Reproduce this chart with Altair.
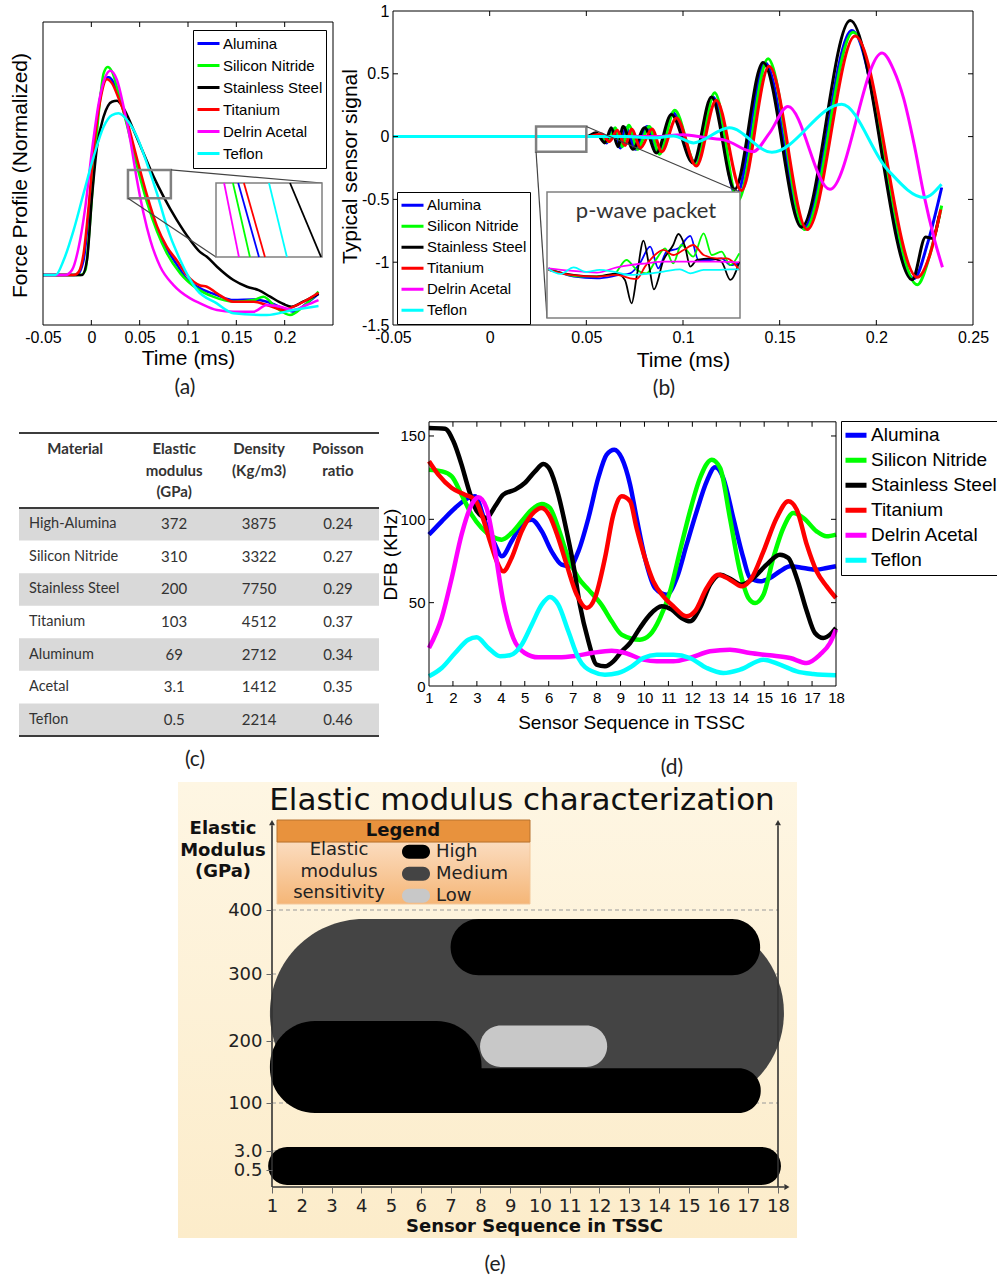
import altair as alt
import pandas as pd

W, H = 997, 1278

materials = ["Alumina", "Silicon Nitride", "Stainless Steel", "Titanium",
             "Delrin Acetal", "Teflon"]
palette = ["#0000ff", "#00ff00", "#000000", "#ff0000", "#ff00ff", "#00ffff"]

# ---------------------------------------------------------------- (a)
# normalized force profile: (time in ms, force)
force_alumina = [(-0.05, 0), (-0.015, 0), (-0.008, 0.072), (-0.0028, 0.297), (0.0024, 0.585),
                 (0.0093, 0.857), (0.0145, 0.945), (0.0179, 0.95), (0.0282, 0.865), (0.0369, 0.73),
                 (0.0472, 0.545), (0.0575, 0.37), (0.0679, 0.225), (0.0782, 0.125), (0.0885, 0.05),
                 (0.0988, -0.02), (0.1126, -0.064), (0.13, -0.096), (0.147, -0.12), (0.168, -0.117),
                 (0.1815, -0.128), (0.199, -0.16), (0.209, -0.176), (0.2228, -0.136), (0.235, -0.09)]
force_silicon = [(-0.05, 0), (-0.011, 0), (-0.006, 0.024), (-0.0028, 0.168), (0.0024, 0.489),
                 (0.0076, 0.777), (0.0127, 0.969), (0.0169, 1.0), (0.0214, 0.977), (0.0282, 0.873),
                 (0.0369, 0.72), (0.0472, 0.525), (0.0575, 0.35), (0.0679, 0.21), (0.0782, 0.104),
                 (0.092, 0.008), (0.109, -0.064), (0.126, -0.104), (0.147, -0.128), (0.168, -0.12),
                 (0.178, -0.104), (0.192, -0.16), (0.2056, -0.192), (0.219, -0.152), (0.235, -0.08)]
force_steel = [(-0.05, 0), (-0.0096, 0), (-0.0045, 0.072), (0.0007, 0.377), (0.0059, 0.617),
               (0.0127, 0.761), (0.0214, 0.833), (0.0265, 0.837), (0.0334, 0.801), (0.0437, 0.697),
               (0.054, 0.585), (0.0644, 0.473), (0.0747, 0.377), (0.0885, 0.264), (0.1023, 0.168),
               (0.1126, 0.11), (0.1195, 0.088), (0.13, 0.04), (0.147, -0.024), (0.161, -0.056),
               (0.173, -0.072), (0.185, -0.104), (0.1987, -0.139), (0.207, -0.152), (0.219, -0.128),
               (0.235, -0.09)]
force_titanium = [(-0.05, 0), (-0.018, 0), (-0.013, 0.016), (-0.008, 0.104), (-0.0028, 0.328),
                  (0.0024, 0.60), (0.0093, 0.841), (0.0162, 0.941), (0.0214, 0.921), (0.0282, 0.849),
                  (0.0369, 0.74), (0.0472, 0.56), (0.0575, 0.385), (0.0679, 0.235), (0.0782, 0.135),
                  (0.0885, 0.07), (0.0988, 0.0), (0.1126, -0.05), (0.1195, -0.056), (0.13, -0.088),
                  (0.147, -0.128), (0.168, -0.128), (0.1815, -0.144), (0.199, -0.168), (0.209, -0.152),
                  (0.2228, -0.12), (0.235, -0.085)]
force_delrin = [(-0.05, 0), (-0.027, 0), (-0.02, 0.024), (-0.013, 0.136), (-0.0062, 0.328),
                (0.0007, 0.60), (0.0076, 0.825), (0.0145, 0.953), (0.0196, 0.982), (0.0265, 0.9375),
                (0.0334, 0.809), (0.0403, 0.649), (0.0472, 0.457), (0.054, 0.297), (0.061, 0.168),
                (0.0713, 0.04), (0.085, -0.048), (0.1023, -0.112), (0.1126, -0.136), (0.13, -0.168),
                (0.147, -0.176), (0.168, -0.176), (0.1815, -0.144), (0.195, -0.152), (0.209, -0.168),
                (0.2228, -0.144), (0.235, -0.12)]
force_teflon = [(-0.05, 0), (-0.037, 0), (-0.0286, 0.072), (-0.0183, 0.216), (-0.008, 0.393),
                (0.0024, 0.569), (0.0127, 0.713), (0.0214, 0.769), (0.0282, 0.777), (0.0369, 0.745),
                (0.0472, 0.665), (0.0575, 0.537), (0.0679, 0.393), (0.0782, 0.232), (0.0919, 0.072),
                (0.109, -0.07), (0.1298, -0.136), (0.147, -0.183), (0.1815, -0.192), (0.209, -0.168),
                (0.235, -0.149)]

# magnified falling edges: window (t0, t1, f0, f1) and line ends inside it
window_a = (0.0379, 0.0823, 0.369, 0.505)
edge_alumina = [(0.0472, 0.505), (0.0559, 0.369)]
edge_silicon = [(0.0450, 0.505), (0.0521, 0.369)]
edge_steel = [(0.0689, 0.505), (0.0819, 0.369)]
edge_titanium = [(0.0496, 0.505), (0.0584, 0.369)]
edge_delrin = [(0.0413, 0.505), (0.0475, 0.369)]
edge_teflon = [(0.0601, 0.505), (0.0676, 0.369)]

# ---------------------------------------------------------------- (b)
# typical sensor signal: (time in ms, signal)
signal_alumina = [(-0.05, 0), (0.0, 0), (0.05, 0), (0.056, 0.02), (0.0605, -0.05), (0.064, 0.06),
                  (0.0675, -0.09), (0.0705, 0.07), (0.0755, -0.1), (0.0815, 0.08), (0.0872, -0.12),
                  (0.0948, 0.19), (0.106, -0.2), (0.1155, 0.315), (0.1275, -0.47), (0.1424, 0.59),
                  (0.1623, -0.73), (0.1873, 0.845), (0.2195, -1.13), (0.2265, -0.85), (0.2338, -0.405)]
signal_silicon = [(-0.05, 0), (0.0, 0), (0.05, 0), (0.057, 0.02), (0.061, -0.04), (0.065, 0.07),
                  (0.0685, -0.08), (0.072, 0.09), (0.0765, -0.1), (0.0825, 0.08), (0.0878, -0.14),
                  (0.0957, 0.21), (0.1066, -0.22), (0.1164, 0.35), (0.1284, -0.51), (0.144, 0.62),
                  (0.163, -0.74), (0.188, 0.83), (0.2212, -1.18), (0.2275, -0.95), (0.2338, -0.55)]
signal_steel = [(-0.05, 0), (0.0, 0), (0.05, 0), (0.055, 0.03), (0.0595, -0.05), (0.0629, 0.07),
                (0.0664, -0.08), (0.069, 0.08), (0.0741, -0.1), (0.0802, 0.07), (0.0862, -0.13),
                (0.094, 0.175), (0.1052, -0.21), (0.1147, 0.315), (0.1267, -0.42), (0.1414, 0.59),
                (0.1613, -0.72), (0.1865, 0.924), (0.2186, -1.14), (0.2255, -0.80), (0.229, -0.81),
                (0.2325, -0.63)]
signal_titanium = [(-0.05, 0), (0.0, 0), (0.05, 0), (0.058, 0.02), (0.062, -0.04), (0.066, 0.05),
                   (0.07, -0.07), (0.0735, 0.06), (0.078, -0.09), (0.084, 0.06), (0.089, -0.12),
                   (0.0966, 0.148), (0.1069, -0.235), (0.1172, 0.29), (0.1302, -0.43), (0.1445, 0.56),
                   (0.1642, -0.74), (0.189, 0.80), (0.2212, -1.12), (0.2275, -0.95), (0.2333, -0.58)]
signal_delrin = [(-0.05, 0), (0.0, 0), (0.05, 0), (0.085, 0.0), (0.1, 0.015), (0.112, -0.01),
                 (0.122, -0.03), (0.1362, -0.12), (0.1448, 0.03), (0.1543, 0.24), (0.176, -0.42),
                 (0.203, 0.666), (0.209, 0.53), (0.2142, 0.30), (0.2194, -0.05), (0.2247, -0.47),
                 (0.2299, -0.81), (0.2342, -1.04)]
signal_teflon = [(-0.05, 0), (0.0, 0), (0.05, 0), (0.07, 0.0), (0.085, -0.01), (0.095, 0.005),
                 (0.1055, -0.05), (0.124, 0.07), (0.146, -0.125), (0.1821, 0.258), (0.2056, -0.26),
                 (0.2247, -0.484), (0.2337, -0.38)]

# magnified p-wave packet: window (t0, t1, s0, s1) and traces inside it
window_b = (0.024, 0.050, -0.12, 0.08)
packet_alumina = [(0.0242, -0.0411), (0.0276, -0.0543), (0.0307, -0.0570), (0.0338, -0.0517),
                  (0.0352, -0.0491), (0.0365, -0.0332), (0.0379, -0.0068), (0.0390, -0.0411),
                  (0.0401, -0.0147), (0.0417, -0.0094), (0.0433, 0.0102), (0.0444, -0.0279),
                  (0.0460, -0.0279), (0.0475, -0.0253), (0.0487, -0.0359), (0.0499, -0.0332)]
packet_silicon = [(0.0242, -0.0411), (0.0285, -0.0543), (0.0329, -0.0517), (0.0347, -0.0279),
                  (0.0361, -0.0437), (0.0374, -0.0491), (0.0388, -0.0253), (0.0399, -0.0094),
                  (0.0410, -0.0332), (0.0421, -0.0041), (0.0437, -0.0226), (0.0451, 0.0144),
                  (0.0462, -0.0200), (0.0475, -0.0147), (0.0487, -0.0359), (0.0499, -0.0173)]
packet_steel = [(0.0242, -0.0437), (0.0276, -0.0517), (0.0307, -0.0543), (0.0334, -0.0491),
                (0.0345, -0.0596), (0.0354, -0.0967), (0.0361, -0.0530), (0.0370, 0.0028),
                (0.0377, -0.0332), (0.0384, -0.0744), (0.0397, -0.0279), (0.0410, -0.0041),
                (0.0417, 0.0133), (0.0426, -0.0068), (0.0433, -0.0385), (0.0442, -0.0279),
                (0.0460, -0.0253), (0.0475, -0.0306), (0.0487, -0.0596), (0.0499, -0.0306)]
packet_titanium = [(0.0242, -0.0437), (0.0271, -0.0517), (0.0307, -0.0543), (0.0334, -0.0517),
                   (0.0352, -0.0570), (0.0361, -0.0580), (0.0372, -0.0385), (0.0383, -0.0226),
                   (0.0397, -0.0120), (0.0410, -0.0200), (0.0424, -0.0120), (0.0437, -0.0041),
                   (0.0451, -0.0200), (0.0469, -0.0253), (0.0482, -0.0253), (0.0499, -0.0437)]
packet_delrin = [(0.0242, -0.0411), (0.0271, -0.0448), (0.0307, -0.0480), (0.0334, -0.0396),
                 (0.0352, -0.0359), (0.0374, -0.0332), (0.0397, -0.0306), (0.0419, -0.0306),
                 (0.0442, -0.0306), (0.0469, -0.0306), (0.0499, -0.0316)]
packet_teflon = [(0.0242, -0.0427), (0.0258, -0.0501), (0.0276, -0.0396), (0.0293, -0.0470),
                 (0.0311, -0.0437), (0.0329, -0.0464), (0.0352, -0.0517), (0.0374, -0.0501),
                 (0.0397, -0.0464), (0.0419, -0.0427), (0.0433, -0.0491), (0.0451, -0.0437),
                 (0.0469, -0.0437), (0.0487, -0.0427), (0.0499, -0.0427)]

# ---------------------------------------------------------------- (c)
table_material = ["High-Alumina", "Silicon Nitride", "Stainless Steel", "Titanium",
                  "Aluminum", "Acetal", "Teflon"]
table_modulus = ["372", "310", "200", "103", "69", "3.1", "0.5"]
table_density = ["3875", "3322", "7750", "4512", "2712", "1412", "2214"]
table_poisson = ["0.24", "0.27", "0.29", "0.37", "0.34", "0.35", "0.46"]
table_header = [["Material"], ["Elastic", "modulus", "(GPa)"], ["Density", "(Kg/m3)"],
                ["Poisson", "ratio"]]

# ---------------------------------------------------------------- (d)
# DFB along the sensor chain: (sensor position, kHz)
dfb_alumina = [(1, 90.8), (1.53, 98.8), (2.09, 106.8), (2.64, 112.8), (2.92, 113.8), (3.34, 98.8),
               (3.76, 84.8), (4.04, 77.8), (4.45, 86.8), (4.87, 96.8), (5.29, 99.8), (5.71, 92.8),
               (6.12, 80.8), (6.54, 72.8), (6.89, 71.8), (7.24, 80.8), (7.66, 100.8), (8.07, 124.8),
               (8.42, 138.8), (8.74, 141.8), (9.05, 136.8), (9.4, 120.8), (9.67, 100.8), (10.02, 76.8),
               (10.44, 58.8), (10.93, 54.8), (11.35, 64.8), (11.76, 84.8), (12.18, 104.8), (12.6, 122.8),
               (12.95, 131.2), (13.29, 124.8), (13.71, 100.8), (14.13, 76.8), (14.41, 64.8), (14.83, 62.8),
               (15.24, 64.8), (15.66, 68.8), (16.08, 71.8), (16.64, 70.8), (17.19, 69.8), (17.61, 70.8),
               (18, 71.8)]
dfb_silicon = [(1, 129.8), (1.53, 128.8), (1.95, 125.8), (2.36, 114.8), (2.78, 102.8), (3.2, 94.8),
               (3.62, 89.8), (4.04, 87.8), (4.45, 91.8), (4.87, 98.8), (5.29, 105.8), (5.71, 109.2),
               (6.05, 106.8), (6.4, 94.8), (6.82, 76.8), (7.24, 64.8), (7.66, 57.8), (8.2, 48.8),
               (8.63, 38.8), (9.05, 30.8), (9.81, 27.8), (10.23, 30.8), (10.65, 40.8), (11.07, 56.8),
               (11.48, 80.8), (11.9, 104.8), (12.32, 124.8), (12.81, 135.8), (13.16, 130.8), (13.57, 100.8),
               (13.99, 68.8), (14.34, 52.8), (14.62, 49.8), (14.97, 54.8), (15.38, 76.8), (15.8, 94.8),
               (16.22, 103.8), (16.64, 100.8), (17.19, 92.8), (17.61, 89.8), (18, 90.8)]
dfb_steel = [(1, 154.8), (1.67, 154.4), (2.02, 146.8), (2.36, 132.8), (2.64, 118.8), (3.0, 104.8),
             (3.4, 100.8), (3.76, 107.8), (4.1, 114.8), (4.6, 117.8), (5.0, 121.8), (5.43, 128.8),
             (5.78, 133.2), (6.05, 129.8), (6.4, 114.8), (6.75, 92.8), (7.03, 72.8), (7.3, 48.8),
             (7.66, 26.8), (8.0, 12.8), (8.35, 11.8), (8.7, 14.8), (9.05, 20.8), (9.4, 25.8),
             (9.81, 34.8), (10.23, 42.8), (10.72, 47.8), (11.14, 45.8), (11.55, 40.8), (11.9, 38.8),
             (12.32, 46.8), (12.74, 60.8), (13.16, 66.8), (13.64, 63.8), (14.06, 60.8), (14.55, 64.8),
             (15.1, 72.8), (15.66, 78.8), (16.01, 76.8), (16.36, 64.8), (16.78, 44.8), (17.12, 31.8),
             (17.47, 28.8), (17.82, 31.8), (18, 34.8)]
dfb_titanium = [(1, 134.8), (1.39, 126.8), (1.95, 118.8), (2.5, 114.8), (2.92, 111.8), (3.2, 102.8),
                (3.55, 86.8), (3.83, 74.8), (4.1, 68.8), (4.45, 76.8), (4.87, 92.8), (5.29, 102.8),
                (5.71, 106.8), (6.05, 101.8), (6.4, 88.8), (6.75, 72.8), (7.17, 54.8), (7.59, 46.8),
                (7.93, 52.8), (8.35, 76.8), (8.7, 102.8), (9.05, 113.8), (9.4, 110.8), (9.67, 94.8),
                (10.02, 76.8), (10.37, 62.8), (10.79, 53.8), (11.21, 47.8), (11.76, 41.8), (12.11, 44.8),
                (12.6, 58.8), (13.09, 66.8), (13.57, 63.8), (14.06, 59.8), (14.48, 64.8), (14.97, 80.8),
                (15.52, 100.8), (16.01, 110.8), (16.36, 105.8), (16.78, 84.8), (17.19, 68.8),
                (17.61, 59.8), (18, 52.8)]
dfb_delrin = [(1, 22.8), (1.53, 40.8), (1.95, 64.8), (2.36, 90.8), (2.78, 108.8), (3.06, 113.2),
              (3.4, 106.8), (3.76, 80.8), (4.1, 50.8), (4.52, 28.8), (5.0, 19.8), (5.57, 17.2),
              (6.4, 17.2), (7.1, 18), (7.8, 19.8), (8.63, 21.2), (9.2, 19.8), (9.95, 15.8),
              (10.51, 14.8), (11.21, 14.8), (11.9, 16.8), (12.74, 20.8), (13.57, 21.8), (14.41, 19.8),
              (15.24, 18.4), (16.08, 16.8), (16.78, 13.8), (17.33, 18.8), (17.75, 25.8), (18, 33.8)]
dfb_teflon = [(1, 5.8), (1.53, 10.8), (2.09, 19.8), (2.64, 27.8), (2.99, 29.2), (3.48, 22.8),
              (3.97, 17.8), (4.38, 18.4), (4.87, 24.8), (5.29, 36.8), (5.71, 48.8), (6.05, 53.4),
              (6.4, 48.8), (6.82, 32.8), (7.24, 16.8), (7.8, 8.8), (8.35, 6.8), (8.9, 7.8),
              (9.47, 11.8), (9.95, 16.8), (10.51, 18.8), (11.21, 18.8), (11.9, 16.8), (12.6, 10.8),
              (13.29, 7.8), (13.99, 9.8), (14.97, 15.8), (15.66, 12.8), (16.36, 8.8), (17.05, 7.2),
              (18, 6.4)]

# ---------------------------------------------------------------- (e)
# sensitivity regions: level, sensor span, elastic modulus span (GPa)
region_level = ["Medium", "High", "High", "High", "Low", "High"]
region_s0 = [0.93, 7.0, 0.93, 2.0, 7.99, 0.87]
region_s1 = [18.2, 17.4, 8.04, 17.42, 12.26, 18.1]
region_g0 = [92, 298, 80, 80, 158, 0.06]
region_g1 = [386, 386, 230, 156, 223, 11]
sens_levels = ["High", "Medium", "Low"]
sens_colors = ["#000000", "#444444", "#c8c8c8"]
e_yticks = [0.5, 3, 100, 200, 300, 400]
e_xticks = list(range(1, 19))

# tick values of the line plots
a_xticks = [-0.05, 0, 0.05, 0.1, 0.15, 0.2]
b_xticks = [-0.05, 0, 0.05, 0.1, 0.15, 0.2, 0.25]
b_yticks = [-1.5, -1, -0.5, 0, 0.5, 1]
d_xticks = list(range(1, 19))
d_yticks = [0, 50, 100, 150]

# ================================================================ helpers
SANS = "Liberation Sans"
CAL = "Lato"
VER = "DejaVu Sans"
LABEL = "'' + datum.value"


def sc(domain, rng):
    return alt.Scale(domain=list(domain), range=list(rng), nice=False, zero=False)


def to_px(v, dom, rng):
    return rng[0] + (v - dom[0]) / (dom[1] - dom[0]) * (rng[1] - rng[0])


def series_frame(series):
    rows = []
    for name, pts in zip(materials, series):
        for k, (x, y) in enumerate(pts):
            rows.append({"material": name, "x": x, "y": y, "k": k})
    return pd.DataFrame(rows)


def bottom_axis(y_px, values, size, title, tx, ty, tsize, **kw):
    opts = dict(orient="bottom", offset=y_px - H, values=values, labelExpr=LABEL,
                labelFont=SANS, labelFontSize=size, labelColor="black", labelPadding=4,
                labelFlush=False, labelOverlap=False, ticks=False, tickSize=0,
                domain=False, grid=False, title=title, titleX=tx, titleY=ty,
                titleFont=SANS, titleFontSize=tsize, titleFontWeight="normal",
                titleColor="black", titleBaseline="middle", titleAlign="center",
                titleAngle=0, zindex=1)
    opts.update(kw)
    return alt.Axis(**opts)


def left_axis(x_px, values, size, title, tx, ty, tsize, **kw):
    opts = dict(orient="left", offset=-x_px, values=values, labelExpr=LABEL,
                labelFont=SANS, labelFontSize=size, labelColor="black", labelPadding=4,
                labelFlush=False, labelOverlap=False, ticks=False, tickSize=0,
                domain=False, grid=False, title=title, titleX=tx, titleY=ty,
                titleFont=SANS, titleFontSize=tsize, titleFontWeight="normal",
                titleColor="black", titleBaseline="middle", titleAlign="center",
                titleAngle=270, zindex=1)
    opts.update(kw)
    return alt.Axis(**opts)


def line_legend(x, y, size, row_h, sym_len, sym_w, pad):
    return alt.Legend(orient="none", legendX=x, legendY=y, title=None, direction="vertical",
                      labelFont=SANS, labelFontSize=size, labelColor="black",
                      symbolType="stroke", symbolSize=sym_len ** 2, symbolStrokeWidth=sym_w,
                      clipHeight=row_h, rowPadding=0, padding=pad, labelOffset=2,
                      strokeColor="black", fillColor="white", cornerRadius=0)


def pos(field, scale, hide):
    """Positional channel; a layer that merely shares a panel's axes leaves the axis unset."""
    return dict(field=field, type="quantitative", scale=scale, **({"axis": None} if hide else {}))


def frame_box(xs, ys, xdom, ydom, stroke="black", width=1, fill=None, hide=False):
    d = pd.DataFrame([{"x0": xdom[0], "x1": xdom[1], "y0": ydom[0], "y1": ydom[1]}])
    mark = alt.Chart(d).mark_rect(stroke=stroke, strokeWidth=width, fill=fill) if fill else \
        alt.Chart(d).mark_rect(stroke=stroke, strokeWidth=width, filled=False)
    return mark.encode(x=alt.X(**pos("x0", xs, hide)), x2="x1",
                       y=alt.Y(**pos("y0", ys, hide)), y2="y1")


def inward_ticks(xs, ys, xdom, ydom, xt, yt, length=5):
    out = []
    if xt:
        d = pd.DataFrame({"v": xt, "lo": ydom[0], "hi": ydom[1]})
        for col, off in (("lo", -length / 2), ("hi", length / 2)):
            out.append(alt.Chart(d).mark_tick(orient="vertical", size=length, thickness=1,
                                              color="black", yOffset=off, opacity=1).encode(
                x=alt.X(**pos("v", xs, False)), y=alt.Y(**pos(col, ys, False))))
    if yt:
        d = pd.DataFrame({"v": yt, "lo": xdom[0], "hi": xdom[1]})
        for col, off in (("lo", length / 2), ("hi", -length / 2)):
            out.append(alt.Chart(d).mark_tick(orient="horizontal", size=length, thickness=1,
                                              color="black", xOffset=off, opacity=1).encode(
                y=alt.Y(**pos("v", ys, False)), x=alt.X(**pos(col, xs, False))))
    return out


def colour(legend):
    return alt.Color("material:N", scale=alt.Scale(domain=materials, range=palette), legend=legend)


CX = sc([0, W], [0, W])
CY = sc([0, H], [0, H])


def canvas_text(rows, font, size, weight="normal", color="#222", align="center", baseline="middle"):
    d = pd.DataFrame(rows, columns=["text", "x", "y"])
    return alt.Chart(d).mark_text(font=font, fontSize=size, fontWeight=weight, color=color,
                                  align=align, baseline=baseline).encode(
        x=alt.X("x:Q", scale=CX, axis=None), y=alt.Y("y:Q", scale=CY, axis=None), text="text:N")


def canvas_rect(x0, x1, y0, y1, **style):
    d = pd.DataFrame([{"x0": x0, "x1": x1, "y0": y0, "y1": y1}])
    return alt.Chart(d).mark_rect(**style).encode(
        x=alt.X("x0:Q", scale=CX, axis=None), x2="x1",
        y=alt.Y("y0:Q", scale=CY, axis=None), y2="y1")


# ================================================================ (a)
AXD, AXR = [-0.05, 0.25], [43, 333]
AYD, AYR = [-0.24, 1.216], [325, 22]
ax, ay = sc(AXD, AXR), sc(AYD, AYR)
df_a = series_frame([force_alumina, force_silicon, force_steel, force_titanium,
                     force_delrin, force_teflon])
a_lines = alt.Chart(df_a).mark_line(strokeWidth=2.5, interpolate="monotone").encode(
    x=alt.X("x:Q", scale=ax, axis=bottom_axis(325, a_xticks, 16, "Time (ms)", 188, 33, 21)),
    y=alt.Y("y:Q", scale=ay, axis=left_axis(43, [0], 16, "Force Profile (Normalized)", -23, 175, 21,
                                            labels=False)),
    color=colour(line_legend(193, 30, 15, 21.2, 22, 3, 3)),
    detail="material:N")
win_a = pd.DataFrame([{"x0": window_a[0], "x1": window_a[1], "y0": window_a[2], "y1": window_a[3]}])
a_window = alt.Chart(win_a).mark_rect(filled=False, stroke="#808080", strokeWidth=2.5).encode(
    x=alt.X(**pos("x0", ax, False)), x2="x1", y=alt.Y(**pos("y0", ay, False)), y2="y1")
panel_a = alt.layer(a_lines, frame_box(ax, ay, AXD, AYD), a_window,
                    *inward_ticks(ax, ay, AXD, AYD, a_xticks[1:], []))

IAXR, IAYR = [216, 322], [257, 183]
iax, iay = sc(window_a[:2], IAXR), sc(window_a[2:], IAYR)
df_ia = series_frame([edge_alumina, edge_silicon, edge_steel, edge_titanium, edge_delrin, edge_teflon])
inset_a = alt.layer(
    frame_box(iax, iay, window_a[:2], window_a[2:], stroke="#808080", width=1.5, fill="white",
              hide=True),
    alt.Chart(df_ia).mark_line(strokeWidth=1.8).encode(
        x=alt.X("x:Q", scale=iax, axis=None), y=alt.Y("y:Q", scale=iay, axis=None),
        color=colour(None), detail="material:N"))

# ================================================================ (b)
BXD, BXR = [-0.05, 0.25], [393, 973]
BYD, BYR = [-1.5, 1.0], [325, 11]
bx, by = sc(BXD, BXR), sc(BYD, BYR)
df_b = series_frame([signal_alumina, signal_silicon, signal_steel, signal_titanium,
                     signal_delrin, signal_teflon])
b_lines = alt.Chart(df_b).mark_line(strokeWidth=3, interpolate="monotone").encode(
    x=alt.X("x:Q", scale=bx, axis=bottom_axis(325, b_xticks, 16, "Time (ms)", 683, 35, 21)),
    y=alt.Y("y:Q", scale=by, axis=left_axis(393, b_yticks, 16, "Typical sensor signal", -43, 166, 21)),
    color=colour(line_legend(397, 192, 15, 20.7, 22, 3, 3)),
    detail="material:N")
win_b = pd.DataFrame([{"x0": window_b[0], "x1": window_b[1], "y0": window_b[2], "y1": window_b[3]}])
b_window = alt.Chart(win_b).mark_rect(filled=False, stroke="#808080", strokeWidth=2.5).encode(
    x=alt.X(**pos("x0", bx, False)), x2="x1", y=alt.Y(**pos("y0", by, False)), y2="y1")
panel_b = alt.layer(b_lines, frame_box(bx, by, BXD, BYD), b_window,
                    *inward_ticks(bx, by, BXD, BYD, b_xticks[1:-1], b_yticks[1:-1]))

IBXR, IBYR = [547, 740], [318, 192]
ibx, iby = sc(window_b[:2], IBXR), sc(window_b[2:], IBYR)
df_ib = series_frame([packet_alumina, packet_silicon, packet_steel, packet_titanium,
                      packet_delrin, packet_teflon])
inset_b = alt.layer(
    frame_box(ibx, iby, window_b[:2], window_b[2:], stroke="#808080", width=1.5, fill="white",
              hide=True),
    alt.Chart(df_ib).mark_line(strokeWidth=1.8, interpolate="monotone").encode(
        x=alt.X("x:Q", scale=ibx, axis=None), y=alt.Y("y:Q", scale=iby, axis=None),
        color=colour(None), detail="material:N"))

# connectors from the magnified windows to their insets
conn = []
for win, xd, xr, yd, yr, ixr, iyr, pairs in (
        (window_a, AXD, AXR, AYD, AYR, IAXR, IAYR, [((1, 3), (1, 1)), ((0, 2), (0, 0))]),
        (window_b, BXD, BXR, BYD, BYR, IBXR, IBYR, [((1, 3), (1, 1)), ((0, 2), (0, 0))])):
    for (wx, wy), (bxi, byi) in pairs:
        conn.append({"x": to_px(win[wx], xd, xr), "y": to_px(win[wy], yd, yr),
                     "x2": ixr[bxi], "y2": iyr[byi]})
connectors = alt.Chart(pd.DataFrame(conn)).mark_rule(color="#444", strokeWidth=1.2).encode(
    x=alt.X("x:Q", scale=CX, axis=None), y=alt.Y("y:Q", scale=CY, axis=None), x2="x2", y2="y2")

# ================================================================ (c) table
tx, ty = sc([0, 1], [19, 379]), sc([0, 7], [508, 736])
col_center = [0.156, 0.431, 0.667, 0.886]
bands = pd.DataFrame([{"x0": 0, "x1": 1, "y0": i, "y1": i + 1} for i in range(0, 7, 2)])
t_bands = alt.Chart(bands).mark_rect(fill="#d9d9d9").encode(
    x=alt.X("x0:Q", scale=tx, axis=None), x2="x1", y=alt.Y("y0:Q", scale=ty, axis=None), y2="y1")
rules = pd.DataFrame({"y": [-2.3, 0, 7], "x0": 0, "x1": 1})
t_rules = alt.Chart(rules).mark_rule(color="#3c3c3c", strokeWidth=2).encode(
    x=alt.X("x0:Q", scale=tx, axis=None), x2="x1", y=alt.Y("y:Q", scale=ty, axis=None))
head_rows = []
for c, lines in enumerate(table_header):
    for j, txt in enumerate(lines):
        head_rows.append({"text": txt, "x": col_center[c], "y": -1.81 + 0.66 * j})
t_head = alt.Chart(pd.DataFrame(head_rows)).mark_text(
    font=CAL, fontSize=15, fontWeight="bold", color="#333", baseline="middle").encode(
    x=alt.X("x:Q", scale=tx, axis=None), y=alt.Y("y:Q", scale=ty, axis=None), text="text:N")
body_left = pd.DataFrame({"text": table_material, "x": 0.028, "y": [i + 0.5 for i in range(7)]})
t_left = alt.Chart(body_left).mark_text(
    font=CAL, fontSize=14.5, color="#333", align="left", baseline="middle").encode(
    x=alt.X("x:Q", scale=tx, axis=None), y=alt.Y("y:Q", scale=ty, axis=None), text="text:N")
body_rows = []
for c, col in enumerate([table_modulus, table_density, table_poisson], start=1):
    for i, txt in enumerate(col):
        body_rows.append({"text": txt, "x": col_center[c], "y": i + 0.5})
t_body = alt.Chart(pd.DataFrame(body_rows)).mark_text(
    font=CAL, fontSize=15, color="#333", align="center", baseline="middle").encode(
    x=alt.X("x:Q", scale=tx, axis=None), y=alt.Y("y:Q", scale=ty, axis=None), text="text:N")
panel_c = alt.layer(t_bands, t_rules, t_head, t_left, t_body)

# ================================================================ (d)
DXD, DXR = [1, 18], [429, 836]
DYD, DYR = [0, 158.5], [686, 421.8]
dx, dy = sc(DXD, DXR), sc(DYD, DYR)
df_d = series_frame([dfb_alumina, dfb_silicon, dfb_steel, dfb_titanium, dfb_delrin, dfb_teflon])
d_lines = alt.Chart(df_d).mark_line(strokeWidth=4.5, interpolate="monotone").encode(
    x=alt.X("x:Q", scale=dx, axis=bottom_axis(686, d_xticks, 15, "Sensor Sequence in TSSC", 631, 36, 19)),
    y=alt.Y("y:Q", scale=dy, axis=left_axis(429, d_yticks, 15, "DFB (KHz)", -39, 554, 19)),
    color=colour(line_legend(841, 421, 19, 24.7, 21, 5, 2)),
    detail="material:N")
panel_d = alt.layer(d_lines, frame_box(dx, dy, DXD, DYD),
                    *inward_ticks(dx, dy, DXD, DYD, d_xticks[1:-1], d_yticks[1:]))

# ================================================================ (e)
ex = sc([1, 18], [272, 778])
ey = alt.Scale(domain=[0, 0.5, 3, 100, 200, 300, 400, 540],
               range=[1187, 1170, 1151, 1103, 1041, 974, 910, 820], nice=False, zero=False)
df_e = pd.DataFrame({"id": range(len(region_level)), "level": region_level,
                     "s0": region_s0, "s1": region_s1, "g0": region_g0, "g1": region_g1})
region_radius = [94, 28, 45, 22, 21, 19]

e_axis_x = alt.Axis(orient="bottom", offset=1187 - H, values=e_xticks, labelExpr=LABEL,
                    labelFont=VER, labelFontSize=18,
                    labelColor="#222", labelPadding=4, labelFlush=False, labelOverlap=False,
                    ticks=True, tickSize=6, tickColor="#666", domain=False, grid=False,
                    title="Sensor Sequence in TSSC", titleX=534, titleY=39.5, titleFont=VER,
                    titleFontSize=18, titleFontWeight="bold", titleColor="#111",
                    titleBaseline="middle", titleAlign="center", titleAngle=0, zindex=1)
e_axis_y = alt.Axis(orient="left", offset=-272, values=e_yticks,
                    labelExpr="datum.value == 3 ? '3.0' : '' + datum.value",
                    labelFont=VER, labelFontSize=18, labelColor="#222", labelPadding=4,
                    labelFlush=False, labelOverlap=False, ticks=True, tickSize=6, tickColor="#666",
                    domain=False, grid=False, title=None, zindex=1)

grid = pd.DataFrame({"g": e_yticks, "s0": 1, "s1": 18})
e_grid = alt.Chart(grid).mark_rule(color="#9a9a9a", strokeWidth=1, strokeDash=[4, 3]).encode(
    x=alt.X("s0:Q", scale=ex, axis=e_axis_x), x2="s1", y=alt.Y("g:Q", scale=ey, axis=e_axis_y))

sym_path = "M-0.5,-0.5H0.5A0.5,0.5,0,0,1,0.5,0.5H-0.5A0.5,0.5,0,0,1,-0.5,-0.5Z"
e_legend = alt.Legend(orient="none", legendX=402, legendY=841, title=None, direction="vertical",
                      labelFont=VER, labelFontSize=18, labelColor="#222", symbolType=sym_path,
                      symbolSize=784, symbolStrokeWidth=0, clipHeight=21.5, rowPadding=0,
                      padding=0, labelOffset=6)
region_layers = []
for i, r in enumerate(region_radius):
    enc = dict(
        x=alt.X(**pos("s0", ex, False)), x2="s1",
        y=alt.Y(**pos("g0", ey, False)), y2="g1",
        color=alt.Color("level:N", scale=alt.Scale(domain=sens_levels, range=sens_colors),
                        legend=e_legend if i == 0 else None))
    region_layers.append(alt.Chart(df_e).transform_filter(f"datum.id == {i}")
                         .mark_rect(cornerRadius=r, opacity=1).encode(**enc))

axis_lines = pd.DataFrame({"s": [1, 18, 1], "s2": [1, 18, 18.22], "g": [0, 0, 0], "g2": [532, 532, 0]})
e_lines = alt.Chart(axis_lines).mark_rule(color="#333", strokeWidth=1.6).encode(
    x=alt.X(**pos("s", ex, False)), x2="s2", y=alt.Y(**pos("g", ey, False)), y2="g2")
arrow_up = pd.DataFrame({"s": [1, 18], "g": [536, 536]})
e_arrow_up = alt.Chart(arrow_up).mark_point(shape="triangle-up", filled=True, size=35,
                                            color="#333", opacity=1).encode(
    x=alt.X(**pos("s", ex, False)), y=alt.Y(**pos("g", ey, False)))
arrow_right = pd.DataFrame({"s": [18.3], "g": [0]})
e_arrow_right = alt.Chart(arrow_right).mark_point(shape="triangle-right", filled=True, size=35,
                                                  color="#333", opacity=1).encode(
    x=alt.X(**pos("s", ex, False)), y=alt.Y(**pos("g", ey, False)))
panel_e = alt.layer(e_grid, *region_layers, e_lines, e_arrow_up, e_arrow_right)

# ================================================================ figure furniture
bg_grad = {"gradient": "linear", "x1": 0, "x2": 0, "y1": 0, "y2": 1,
           "stops": [{"offset": 0, "color": "#fef6e3"}, {"offset": 1, "color": "#fcecca"}]}
legend_grad = {"gradient": "linear", "x1": 0, "x2": 0, "y1": 0, "y2": 1,
               "stops": [{"offset": 0, "color": "#fbdcbf"}, {"offset": 1, "color": "#f5b677"}]}
back = canvas_rect(178, 797, 782, 1238, fill=bg_grad)

front = alt.layer(
    canvas_rect(277, 530, 842, 904, fill=legend_grad, stroke="#f3c79a", strokeWidth=1),
    canvas_rect(277, 530, 820, 842, fill="#e8923d", stroke="#b8732f", strokeWidth=1),
    canvas_text([("(a)", 185, 388), ("(b)", 664, 389), ("(c)", 195, 760), ("(d)", 672, 768),
                 ("(e)", 495, 1265)], CAL, 21, color="#222"),
    canvas_text([("p-wave packet", 646, 211)], CAL, 22, color="#333"),
    canvas_text([("Elastic modulus characterization", 522, 801)], VER, 31, color="#111"),
    canvas_text([("Elastic", 223, 829), ("Modulus", 223, 851), ("(GPa)", 223, 872)], VER, 18,
                weight="bold", color="#111"),
    canvas_text([("Legend", 403, 831)], VER, 18, weight="bold", color="#111"),
    canvas_text([("Elastic", 339, 850), ("modulus", 339, 872), ("sensitivity", 339, 893)], VER, 18,
                color="#222"),
)

chart = alt.layer(
    back, panel_a, panel_b, panel_c, panel_d, panel_e, connectors, inset_a, inset_b, front
).resolve_scale(
    x="independent", y="independent", color="independent"
).resolve_axis(
    x="independent", y="independent"
).resolve_legend(
    color="independent"
).properties(
    width=W, height=H, padding=0, autosize=alt.AutoSizeParams(type="none"),
    background="white"
).configure_view(stroke=None)

chart.save("out.html", embed_options={"renderer": "svg", "actions": False})
